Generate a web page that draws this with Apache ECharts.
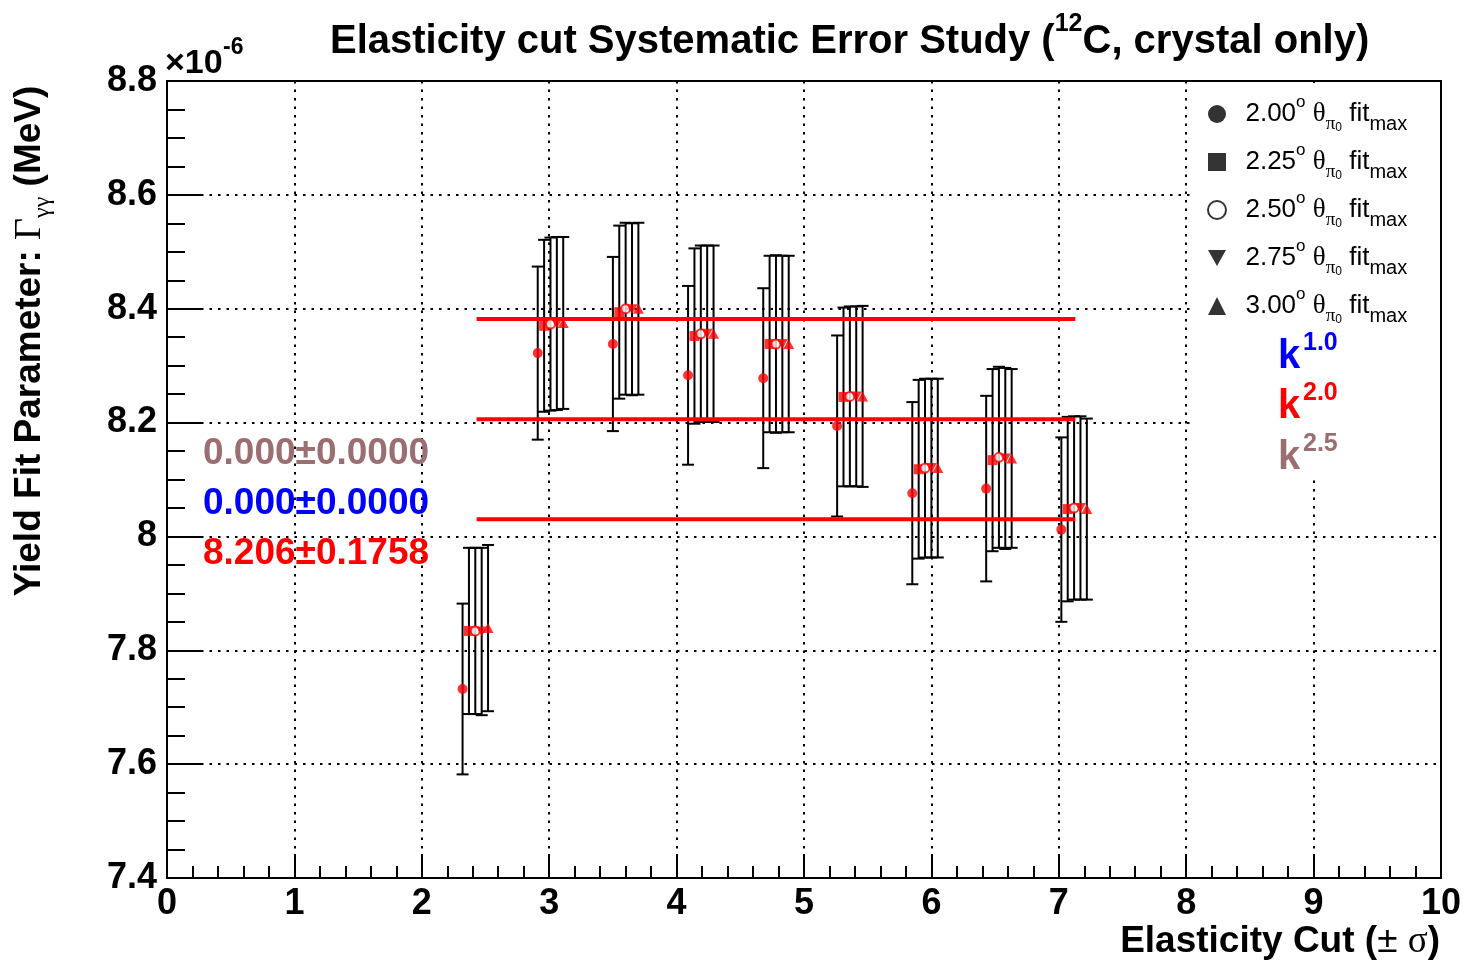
<!DOCTYPE html>
<html>
<head>
<meta charset="utf-8">
<script src="https://cdn.jsdelivr.net/npm/echarts@6/dist/echarts.min.js"></script>
<style>
  html, body { margin: 0; padding: 0; background: #fff; }
  #chart { width: 1467px; height: 964px; }
</style>
</head>
<body>
<div id="chart"></div>
<script>
// Elasticity cut values (in units of sigma) for each group of fits
const cuts = [2.32, 2.91, 3.50, 4.09, 4.68, 5.26, 5.85, 6.43, 7.02];
// Small horizontal shift per theta_max so the five fits in a group do not overlap
const thetaShift = [0, 0.05, 0.10, 0.15, 0.20];
const thetaLabels = ['2.00', '2.25', '2.50', '2.75', '3.00'];

// Fitted radiative width (x1e-6 MeV) and its uncertainty, per theta_max
const yield200 = [7.732, 8.322, 8.338, 8.283, 8.278, 8.194, 8.076, 8.084, 8.012];
const err200   = [0.150, 0.152, 0.153, 0.157, 0.158, 0.159, 0.160, 0.163, 0.162];
const yield225 = [7.834, 8.370, 8.394, 8.352, 8.338, 8.245, 8.118, 8.134, 8.048];
const err225   = [0.146, 0.151, 0.152, 0.154, 0.155, 0.157, 0.157, 0.160, 0.162];
const yield250 = [7.834, 8.373, 8.400, 8.356, 8.338, 8.246, 8.120, 8.139, 8.050];
const err250   = [0.146, 0.152, 0.151, 0.155, 0.156, 0.158, 0.157, 0.159, 0.161];
const yield275 = [7.833, 8.374, 8.399, 8.356, 8.338, 8.246, 8.120, 8.137, 8.050];
const err275   = [0.147, 0.152, 0.151, 0.155, 0.155, 0.158, 0.157, 0.159, 0.161];
const yield300 = [7.839, 8.375, 8.400, 8.356, 8.338, 8.246, 8.120, 8.137, 8.048];
const err300   = [0.146, 0.151, 0.151, 0.155, 0.155, 0.159, 0.157, 0.157, 0.159];

// Constant fit over all points: mean and spread
const fitMean = 8.206;
const fitErr = 0.1758;
const fitRange = [2.43, 7.13];

// Axis ranges and ticks
const xRange = [0, 10];
const yRange = [7.4, 8.8];
const xStep = 1;
const yStep = 0.2;

const RED = '#ff0000';
const MAUVE = '#9b6e72';
const SANS = 'Liberation Sans, Arial, Helvetica, sans-serif';
const SERIF = 'Liberation Serif, Times New Roman, serif';

const groups = [
  { y: yield200, e: err200, symbol: 'circle', size: 10, style: { color: RED },
    legendIcon: 'circle', legendStyle: { color: '#000' } },
  { y: yield225, e: err225, symbol: 'rect', size: 10, style: { color: RED },
    legendIcon: 'rect', legendStyle: { color: '#000' } },
  { y: yield250, e: err250, symbol: 'circle', size: 9, style: { color: '#fff', borderColor: RED, borderWidth: 2 },
    legendIcon: 'circle', legendStyle: { color: '#fff', borderColor: '#000', borderWidth: 2 } },
  { y: yield275, e: err275, symbol: 'path://M0,0L10,0L5,9Z', size: [11, 10], style: { color: RED },
    legendIcon: 'path://M0,0L10,0L5,9Z', legendStyle: { color: '#000' } },
  { y: yield300, e: err300, symbol: 'triangle', size: [11, 10], style: { color: RED },
    legendIcon: 'triangle', legendStyle: { color: '#000' } }
];

function errorBars(name, xs, ys, es) {
  return {
    type: 'custom',
    name: name + ' err',
    silent: true,
    z: 2,
    data: xs.map((x, i) => [x, ys[i] - es[i], ys[i] + es[i]]),
    encode: { x: 0, y: [1, 2] },
    renderItem(params, api) {
      const lo = api.coord([api.value(0), api.value(1)]);
      const hi = api.coord([api.value(0), api.value(2)]);
      const w = 6;
      const style = { stroke: '#000', lineWidth: 2, fill: null };
      return {
        type: 'group',
        children: [
          { type: 'line', shape: { x1: lo[0], y1: lo[1], x2: hi[0], y2: hi[1] }, style },
          { type: 'line', shape: { x1: lo[0] - w, y1: lo[1], x2: lo[0] + w, y2: lo[1] }, style },
          { type: 'line', shape: { x1: hi[0] - w, y1: hi[1], x2: hi[0] + w, y2: hi[1] }, style }
        ]
      };
    }
  };
}

const series = [];
groups.forEach((g, k) => {
  const xs = cuts.map(c => c + thetaShift[k]);
  series.push(errorBars(thetaLabels[k], xs, g.y, g.e));
});
[fitMean + fitErr, fitMean, fitMean - fitErr].forEach((v, i) => {
  series.push({
    type: 'line', name: 'fit' + i, silent: true, z: 3, symbol: 'none',
    lineStyle: { color: RED, width: 4 },
    data: [[fitRange[0], v], [fitRange[1], v]]
  });
});
groups.forEach((g, k) => {
  const xs = cuts.map(c => c + thetaShift[k]);
  series.push({
    type: 'scatter', name: thetaLabels[k], z: 4 + k,
    symbol: g.symbol, symbolSize: g.size, itemStyle: g.style,
    data: xs.map((x, i) => [x, g.y[i]])
  });
});

// Legend label: 2.00° θ_{π⁰} fit_{max}
const legendRich = {
  n: { fontSize: 26, fontFamily: SANS, lineHeight: 40, color: '#000' },
  o: { fontSize: 17, fontFamily: SANS, verticalAlign: 'top', lineHeight: 16, color: '#000' },
  g: { fontSize: 27, fontFamily: SERIF, lineHeight: 40, color: '#000' },
  pi: { fontSize: 19, fontFamily: SERIF, verticalAlign: 'bottom', lineHeight: 22, color: '#000' },
  z: { fontSize: 12, fontFamily: SANS, verticalAlign: 'bottom', lineHeight: 34, color: '#000' },
  m: { fontSize: 20, fontFamily: SANS, verticalAlign: 'bottom', lineHeight: 24, color: '#000' }
};

const chart = echarts.init(document.getElementById('chart'), null, { renderer: 'canvas' });

const axisCommon = {
  axisLine: { show: true, lineStyle: { color: '#000', width: 2 } },
  axisTick: { show: true, inside: true, lineStyle: { color: '#000', width: 2 } },
  minorTick: { show: true, lineStyle: { color: '#000', width: 2 } },
  splitLine: { show: true, lineStyle: { color: '#000', width: 2, type: [2.5, 6] } },
  axisLabel: { color: '#000', fontSize: 36, fontWeight: 'bold', fontFamily: SANS }
};

chart.setOption({
  animation: false,
  backgroundColor: '#fff',
  grid: {
    left: 167, top: 81, width: 1274, height: 797,
    show: true, borderColor: '#000', borderWidth: 2, backgroundColor: 'transparent'
  },
  xAxis: Object.assign({}, axisCommon, {
    type: 'value', min: xRange[0], max: xRange[1], interval: xStep,
    axisTick: Object.assign({}, axisCommon.axisTick, { length: 24 }),
    minorTick: Object.assign({}, axisCommon.minorTick, { splitNumber: 5, length: 12 }),
    axisLabel: Object.assign({}, axisCommon.axisLabel, { margin: 8 })
  }),
  yAxis: Object.assign({}, axisCommon, {
    type: 'value', min: yRange[0], max: yRange[1], interval: yStep,
    axisTick: Object.assign({}, axisCommon.axisTick, { length: 36 }),
    minorTick: Object.assign({}, axisCommon.minorTick, { splitNumber: 4, length: 18 }),
    axisLabel: Object.assign({}, axisCommon.axisLabel, {
      margin: 10,
      formatter: v => String(Math.round(v * 10) / 10)
    })
  }),
  legend: {
    orient: 'vertical', left: 1202, top: 89, z: 6,
    itemWidth: 18, itemHeight: 18, itemGap: 8,
    selectedMode: false,
    data: groups.map((g, k) => ({ name: thetaLabels[k], icon: g.legendIcon, itemStyle: g.legendStyle })),
    formatter: name => '{n|  ' + name + '}{o|o}{n| }{g|θ}{pi|π}{z|0}{n| fit}{m|max}',
    textStyle: { rich: legendRich }
  },
  graphic: [
    // white legend box covering the grid in the upper right corner
    { type: 'rect', z: 1, shape: { x: 1190, y: 83, width: 248, height: 396 }, style: { fill: '#fff' } },
    {
      type: 'text', x: 330, y: 37, z: 5,
      style: {
        text: '{t|Elasticity cut Systematic Error Study (}{s|12}{t|C, crystal only)}',
        verticalAlign: 'middle',
        rich: {
          t: { font: 'bold 40px ' + SANS, fill: '#000', lineHeight: 50, verticalAlign: 'bottom' },
          s: { font: 'bold 25px ' + SANS, fill: '#000', lineHeight: 12, verticalAlign: 'top' }
        }
      }
    },
    { type: 'text', x: 165, y: 64, z: 5, style: { text: '×10', font: 'bold 34px ' + SANS, fill: '#000', verticalAlign: 'middle' } },
    { type: 'text', x: 223, y: 48, z: 5, style: { text: '-6', font: 'bold 23px ' + SANS, fill: '#000', verticalAlign: 'middle' } },
    {
      type: 'text', x: 30, y: 341, rotation: Math.PI / 2, z: 5,
      style: {
        text: '{b|Yield Fit Parameter: }{G|Γ}{s|γγ}{b| (MeV)}',
        align: 'center', verticalAlign: 'middle',
        rich: {
          b: { font: 'bold 37px ' + SANS, fill: '#000', lineHeight: 50 },
          G: { font: '38px ' + SERIF, fill: '#000', lineHeight: 50 },
          s: { font: '24px ' + SERIF, fill: '#000', verticalAlign: 'bottom', lineHeight: 36 }
        }
      }
    },
    {
      type: 'text', x: 1440, y: 942, z: 5,
      style: {
        text: '{b|Elasticity Cut (}{p|±}{b| }{s|σ}{b|)}',
        align: 'right', verticalAlign: 'middle',
        rich: {
          b: { font: 'bold 37px ' + SANS, fill: '#000' },
          p: { font: '37px ' + SANS, fill: '#000' },
          s: { font: '37px ' + SERIF, fill: '#000' }
        }
      }
    },
    { type: 'text', x: 203, y: 454, z: 5, style: { text: '0.000±0.0000', font: 'bold 37px ' + SANS, fill: MAUVE, verticalAlign: 'middle' } },
    { type: 'text', x: 203, y: 504, z: 5, style: { text: '0.000±0.0000', font: 'bold 37px ' + SANS, fill: '#0000ff', verticalAlign: 'middle' } },
    { type: 'text', x: 203, y: 554, z: 5, style: { text: fitMean.toFixed(3) + '±' + fitErr.toFixed(4), font: 'bold 37px ' + SANS, fill: RED, verticalAlign: 'middle' } },
    { type: 'text', x: 1278, y: 357, z: 5, style: { text: 'k', font: 'bold 40px ' + SANS, fill: '#0000ff', verticalAlign: 'middle' } },
    { type: 'text', x: 1303, y: 343, z: 5, style: { text: '1.0', font: 'bold 25px ' + SANS, fill: '#0000ff', verticalAlign: 'middle' } },
    { type: 'text', x: 1278, y: 407, z: 5, style: { text: 'k', font: 'bold 40px ' + SANS, fill: RED, verticalAlign: 'middle' } },
    { type: 'text', x: 1303, y: 393, z: 5, style: { text: '2.0', font: 'bold 25px ' + SANS, fill: RED, verticalAlign: 'middle' } },
    { type: 'text', x: 1278, y: 458, z: 5, style: { text: 'k', font: 'bold 40px ' + SANS, fill: MAUVE, verticalAlign: 'middle' } },
    { type: 'text', x: 1303, y: 444, z: 5, style: { text: '2.5', font: 'bold 25px ' + SANS, fill: MAUVE, verticalAlign: 'middle' } }
  ],
  series
});
</script>
</body>
</html>
